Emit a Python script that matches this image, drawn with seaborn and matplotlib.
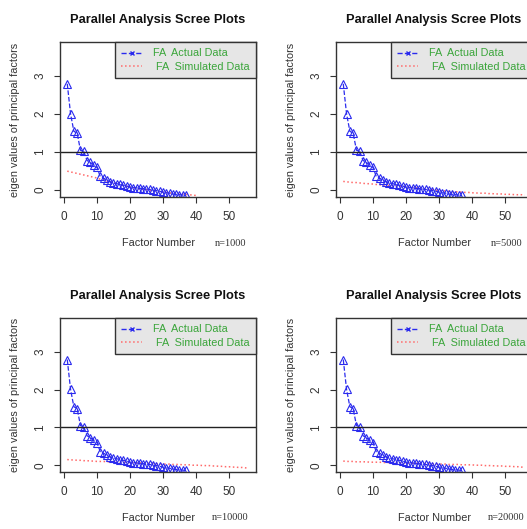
"""
Parallel analysis scree plots for four sample sizes (2x2 panels)
"""

import numpy as np
import pandas as pd
import matplotlib
matplotlib.use('Agg')
import matplotlib.pyplot as plt
import seaborn as sns
from matplotlib.lines import Line2D

sns.set_style('white')
plt.rcParams['font.family'] = ['Liberation Sans', 'DejaVu Sans']

# Eigen values
actual_fa = [2.80, 2.01, 1.55, 1.50, 1.05, 1.02, 0.78, 0.73, 0.67, 0.60,
             0.36, 0.32, 0.26, 0.22, 0.19, 0.17, 0.15, 0.13, 0.11, 0.08,
             0.07, 0.06, 0.05, 0.04, 0.03, 0.02, 0.00, -0.01, -0.03, -0.05,
             -0.07, -0.08, -0.10, -0.11, -0.12, -0.13, -0.14]

sim_1000 = [0.50, 0.48, 0.46, 0.44, 0.42, 0.40, 0.38, 0.36, 0.34, 0.32,
            0.29, 0.27, 0.24, 0.22, 0.19, 0.17, 0.15, 0.12, 0.10, 0.08,
            0.06, 0.05, 0.03, 0.02, 0.01, -0.01, -0.02, -0.03, -0.04, -0.05,
            -0.06, -0.07, -0.08, -0.09, -0.10, -0.10, -0.11, -0.12, -0.13, -0.14]

sim_5000 = [0.23, 0.22, 0.21, 0.20, 0.20, 0.19, 0.18, 0.17, 0.17, 0.16,
            0.15, 0.14, 0.14, 0.13, 0.12, 0.12, 0.11, 0.10, 0.10, 0.09,
            0.08, 0.07, 0.06, 0.05, 0.04, 0.03, 0.02, 0.01, 0.00, -0.01,
            -0.02, -0.02, -0.03, -0.04, -0.04, -0.05, -0.05, -0.06, -0.06, -0.07,
            -0.07, -0.08, -0.08, -0.08, -0.09, -0.09, -0.10, -0.10, -0.10, -0.11,
            -0.11, -0.11, -0.12, -0.12, -0.12, -0.13]

sim_10000 = [0.15, 0.14, 0.14, 0.13, 0.13, 0.12, 0.12, 0.11, 0.11, 0.10,
             0.10, 0.10, 0.09, 0.09, 0.09, 0.08, 0.08, 0.08, 0.07, 0.07,
             0.07, 0.06, 0.06, 0.06, 0.05, 0.05, 0.05, 0.04, 0.04, 0.03,
             0.03, 0.03, 0.02, 0.02, 0.02, 0.01, 0.01, 0.01, 0.00, 0.00,
             0.00, -0.01, -0.01, -0.01, -0.02, -0.02, -0.03, -0.03, -0.04, -0.04,
             -0.05, -0.05, -0.06, -0.06, -0.07, -0.08]

sim_20000 = [0.11, 0.10, 0.10, 0.10, 0.09, 0.09, 0.09, 0.09, 0.08, 0.08,
             0.08, 0.08, 0.07, 0.07, 0.07, 0.07, 0.07, 0.06, 0.06, 0.06,
             0.06, 0.05, 0.05, 0.05, 0.05, 0.04, 0.04, 0.04, 0.04, 0.03,
             0.03, 0.03, 0.02, 0.02, 0.02, 0.02, 0.01, 0.01, 0.01, 0.01,
             0.00, 0.00, 0.00, -0.01, -0.01, -0.01, -0.02, -0.02, -0.02, -0.03,
             -0.03, -0.03, -0.04, -0.04, -0.05, -0.05]

sample_labels = ['n=1000', 'n=5000', 'n=10000', 'n=20000']
simulated = [sim_1000, sim_5000, sim_10000, sim_20000]

x_ticks = [0, 10, 20, 30, 40, 50]
y_ticks = [0, 1, 2, 3]

blue = '#2a2aee'
red = '#ff6a6a'
green = '#3aa53a'

W, H = 527, 529
fig = plt.figure(figsize=(W / 100, H / 100), dpi=100)

# panel boxes in pixels: left, top, bottom
boxes = [(60, 42, 197), (336, 42, 197), (60, 318, 472), (336, 318, 472)]
ax_w = 196

for i, (left, top, bottom) in enumerate(boxes):
    ax = fig.add_axes([left / W, 1 - bottom / H, ax_w / W, (bottom - top) / H])

    act = pd.DataFrame({'factor': np.arange(1, len(actual_fa) + 1), 'eigen': actual_fa})
    sim = pd.DataFrame({'factor': np.arange(1, len(simulated[i]) + 1), 'eigen': simulated[i]})

    sns.lineplot(data=sim, x='factor', y='eigen', ax=ax, color=red,
                 linestyle=':', linewidth=1.1, legend=False)
    sns.lineplot(data=act, x='factor', y='eigen', ax=ax, color=blue,
                 linestyle='--', linewidth=0.9, marker='^', markersize=6,
                 markerfacecolor='none', markeredgecolor=blue,
                 markeredgewidth=0.8, legend=False)
    ax.axhline(1, color='#222222', linewidth=1)

    ax.set_xlim(-1.2, 58.2)
    ax.set_ylim(-0.18, 3.9)
    ax.set_xticks(x_ticks)
    ax.set_yticks(y_ticks)
    ax.tick_params(direction='out', length=4, width=0.8, pad=6,
                   labelsize=8.5, colors='#333333', left=True, bottom=True)
    ax.tick_params(axis='y', labelrotation=90)
    for lab in ax.get_yticklabels():
        lab.set_va('center')
    for sp in ax.spines.values():
        sp.set_visible(True)
        sp.set_color('#333333')
        sp.set_linewidth(1)
    ax.set_xlabel('')
    ax.set_ylabel('')

    ax.set_title('Parallel Analysis Scree Plots', fontsize=9.3, fontweight='bold',
                 pad=14, color='#111111')
    ax.text(-45 / ax_w, 0.5, 'eigen values of principal factors',
            transform=ax.transAxes, rotation=90, ha='center', va='center',
            fontsize=7.8, color='#333333')
    ax.text(0.5, -46 / (bottom - top), 'Factor Number', transform=ax.transAxes,
            ha='center', va='center', fontsize=7.8, color='#333333')
    ax.text(0.87, -46 / (bottom - top), sample_labels[i], transform=ax.transAxes,
            ha='center', va='center', fontsize=7.5, color='#333333',
            family=['Liberation Serif', 'DejaVu Serif'])

    handles = [Line2D([], [], color=blue, linestyle='--', marker='x',
                      markersize=3, linewidth=1),
               Line2D([], [], color=red, linestyle=':', linewidth=1.1)]
    leg = ax.legend(handles, ['FA  Actual Data', ' FA  Simulated Data'],
                    loc='upper right', borderaxespad=0, fontsize=7.8,
                    labelcolor=green, frameon=True, fancybox=False,
                    handlelength=1.9, handletextpad=1.0, borderpad=0.6,
                    labelspacing=0.3)
    leg.get_frame().set_facecolor('#e6e6e6')
    leg.get_frame().set_edgecolor('#333333')
    leg.get_frame().set_linewidth(1)
    leg.get_frame().set_alpha(1)

fig.savefig('out.png', dpi=100)
